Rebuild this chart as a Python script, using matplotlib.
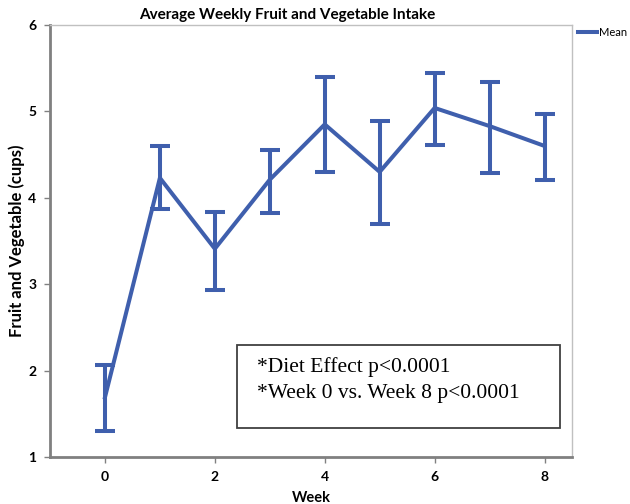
import matplotlib
matplotlib.use('Agg')

import matplotlib.pyplot as plt
from matplotlib.lines import Line2D
from matplotlib.patches import Rectangle

# Data
weeks = [0, 1, 2, 3, 4, 5, 6, 7, 8]
means = [1.69, 4.23, 3.41, 4.21, 4.85, 4.30, 5.04, 4.83, 4.60]
upper = [2.06, 4.60, 3.84, 4.55, 5.40, 4.89, 5.44, 5.34, 4.97]
lower = [1.30, 3.87, 2.93, 3.82, 4.30, 3.70, 4.61, 4.29, 4.21]

title = "Average Weekly Fruit and Vegetable Intake"
x_label = "Week"
y_label = "Fruit and Vegetable (cups)"
note_lines = ["*Diet Effect p<0.0001", "*Week 0 vs. Week 8 p<0.0001"]

blue = '#3F5FAD'
plt.rcParams['font.family'] = ['Lato', 'DejaVu Sans']

fig = plt.figure(figsize=(6.3, 5.04), dpi=100)
ax = fig.add_axes([50 / 630, 47 / 504, 522 / 630, 432 / 504])

err_lo = [m - l for m, l in zip(means, lower)]
err_hi = [u - m for m, u in zip(means, upper)]
ax.errorbar(weeks, means, yerr=[err_lo, err_hi], color=blue, lw=2.9,
            elinewidth=2.9, capsize=7, capthick=2.9)

ax.set_xlim(-1, 8.5)
ax.set_ylim(1, 6)
ax.set_xticks([0, 2, 4, 6, 8])
ax.set_yticks([1, 2, 3, 4, 5, 6])
ax.tick_params(axis='both', labelsize=10, length=4, width=1, color='#808080', pad=6)
for lab in ax.get_xticklabels() + ax.get_yticklabels():
    lab.set_fontweight('bold')

for side in ['left', 'bottom']:
    ax.spines[side].set_color('#808080')
    ax.spines[side].set_linewidth(2)
for side in ['top', 'right']:
    ax.spines[side].set_color('#C0C0C0')
    ax.spines[side].set_linewidth(1)

ax.set_xlabel(x_label, fontsize=10.5, fontweight='bold', labelpad=6)
ax.set_ylabel(y_label, fontsize=12, fontweight='bold', va='center')
ax.yaxis.set_label_coords(-33 / 522, 0.5)
fig.text(287 / 630, 1 - 15 / 504, title, ha='center', va='center',
         fontsize=11, fontweight='bold')

# Legend outside the plot on the right
handle = Line2D([0], [0], color=blue, lw=2.9)
fig.legend([handle], ['Mean'], loc='upper left',
           bbox_to_anchor=(578 / 630, 1 - 27 / 504),
           frameon=False, fontsize=8, handlelength=1.7, handletextpad=0.15,
           borderpad=0, borderaxespad=0)

# Annotation box
ax.add_patch(Rectangle((0.358, 0.067), 0.619, 0.192, transform=ax.transAxes,
                       fc='white', ec='#404040', lw=1.3, zorder=3))
serif = ['Liberation Serif', 'DejaVu Serif']
ax.text(0.397, 0.208, note_lines[0], transform=ax.transAxes, fontsize=15.5,
        family=serif, va='center', ha='left', zorder=4)
ax.text(0.397, 0.148, note_lines[1], transform=ax.transAxes, fontsize=15.5,
        family=serif, va='center', ha='left', zorder=4)

fig.savefig('out.png', dpi=100)
